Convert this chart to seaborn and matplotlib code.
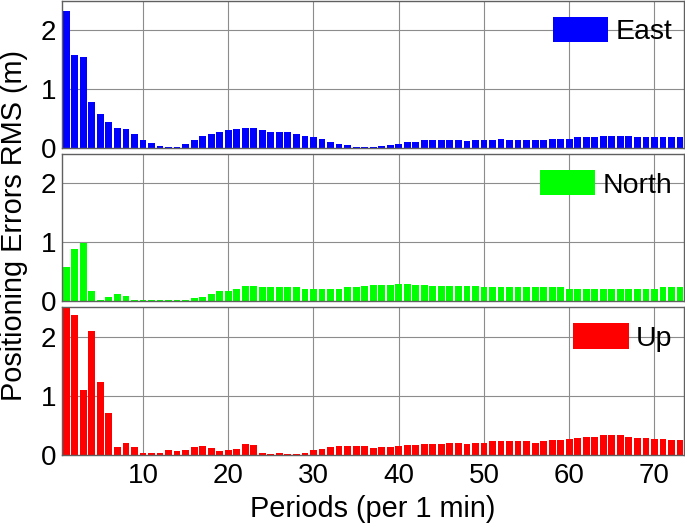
"""Positioning error RMS per period for East / North / Up components."""

import matplotlib

matplotlib.use("Agg")
import matplotlib.pyplot as plt
import numpy as np
import seaborn as sns

periods = list(range(1, 74))

east = [
    2.33, 1.58, 1.55, 0.79, 0.58, 0.45, 0.34, 0.32, 0.24, 0.14,
    0.09, 0.04, 0.02, 0.02, 0.07, 0.14, 0.20, 0.24, 0.27, 0.30,
    0.32, 0.34, 0.34, 0.31, 0.28, 0.27, 0.27, 0.23, 0.21, 0.18,
    0.15, 0.11, 0.07, 0.05, 0.02, 0.01, 0.02, 0.04, 0.05, 0.07,
    0.10, 0.11, 0.13, 0.13, 0.13, 0.14, 0.14, 0.12, 0.14, 0.14,
    0.14, 0.16, 0.14, 0.14, 0.14, 0.14, 0.14, 0.16, 0.16, 0.16,
    0.19, 0.19, 0.19, 0.20, 0.20, 0.20, 0.20, 0.19, 0.19, 0.19,
    0.19, 0.19, 0.19,
]

north = [
    0.57, 0.89, 0.99, 0.17, 0.02, 0.07, 0.12, 0.09, 0.02, 0.02,
    0.02, 0.01, 0.01, 0.01, 0.02, 0.05, 0.07, 0.12, 0.17, 0.17,
    0.20, 0.25, 0.25, 0.24, 0.24, 0.24, 0.24, 0.24, 0.21, 0.21,
    0.21, 0.21, 0.21, 0.24, 0.24, 0.25, 0.28, 0.28, 0.28, 0.29,
    0.29, 0.28, 0.28, 0.25, 0.25, 0.25, 0.25, 0.25, 0.25, 0.24,
    0.24, 0.24, 0.24, 0.24, 0.24, 0.24, 0.24, 0.24, 0.24, 0.21,
    0.21, 0.21, 0.21, 0.20, 0.20, 0.21, 0.21, 0.21, 0.21, 0.21,
    0.24, 0.24, 0.24,
]

up = [
    2.70, 2.37, 1.09, 2.09, 1.24, 0.71, 0.14, 0.21, 0.14, 0.04,
    0.04, 0.04, 0.08, 0.06, 0.08, 0.14, 0.16, 0.11, 0.06, 0.08,
    0.10, 0.19, 0.17, 0.04, 0.02, 0.04, 0.02, 0.02, 0.04, 0.08,
    0.10, 0.14, 0.16, 0.16, 0.16, 0.16, 0.11, 0.14, 0.14, 0.16,
    0.17, 0.17, 0.19, 0.19, 0.19, 0.21, 0.21, 0.19, 0.21, 0.21,
    0.23, 0.23, 0.23, 0.23, 0.23, 0.21, 0.23, 0.25, 0.25, 0.27,
    0.29, 0.31, 0.31, 0.33, 0.34, 0.33, 0.31, 0.29, 0.29, 0.27,
    0.27, 0.25, 0.25,
]

series = [("East", east, "#0000ff"), ("North", north, "#00ff00"), ("Up", up, "#ff0000")]

x_ticks = [10, 20, 30, 40, 50, 60, 70]
y_ticks = [0, 1, 2]


def main() -> None:
    sns.set_theme(style="whitegrid")
    plt.rcParams["font.family"] = ["Liberation Sans", "DejaVu Sans"]
    plt.rcParams["text.color"] = "black"
    plt.rcParams["axes.labelcolor"] = "black"

    fig = plt.figure(figsize=(6.85, 5.26), dpi=100)
    boxes = [
        (0.0905, 0.7186, 0.9085, 0.2795),
        (0.0905, 0.4278, 0.9085, 0.2794),
        (0.0905, 0.1350, 0.9085, 0.2813),
    ]

    for i, ((name, values, color), box) in enumerate(zip(series, boxes)):
        ax = fig.add_axes(box)
        sns.barplot(
            x=periods, y=values, color=color, native_scale=True, width=0.8,
            linewidth=0, saturation=1, label=name, ax=ax,
        )
        ax.set_xlim(0.5, 73.5)
        ax.set_ylim(0, 2.5)
        ax.set_xticks(x_ticks)
        ax.set_yticks(y_ticks)
        ax.set_axisbelow(True)
        ax.grid(True, color="#8c8c8c", linewidth=0.8)
        ax.tick_params(axis="both", length=0, labelsize=20, colors="black")
        ax.tick_params(axis="x", pad=6)
        ax.tick_params(axis="y", pad=4)
        if i < 2:
            ax.set_xticklabels([])
        for sp in ax.spines.values():
            sp.set_color("#606060")
            sp.set_linewidth(1.0)
        ax.set_ylabel("")
        ax.legend(
            loc="upper right", bbox_to_anchor=(1 - 12 / 622, 1 - 16 / 147),
            frameon=False, fontsize=20.5, handlelength=1.95, handleheight=1.0,
            handletextpad=0.25, borderpad=0, borderaxespad=0,
        )

    ax.set_xlabel("Periods (per 1 min)", fontsize=20.8, labelpad=4)
    fig.text(0.021, 0.572, "Positioning Errors RMS (m)", rotation=90,
             ha="center", va="center", fontsize=20.8)

    fig.savefig("out.png", dpi=100)
    plt.close(fig)


if __name__ == "__main__":
    main()
